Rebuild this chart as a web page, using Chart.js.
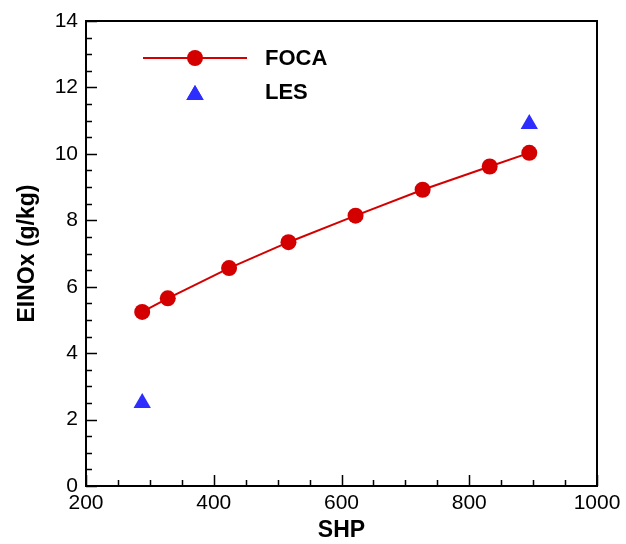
<!DOCTYPE html>
<html>
<head>
<meta charset="utf-8">
<script src="https://cdn.jsdelivr.net/npm/chart.js@4/dist/chart.umd.min.js"></script>
<style>
  html, body { margin: 0; padding: 0; background: #ffffff; }
  canvas { display: block; }
</style>
</head>
<body>
<canvas id="c" width="626" height="544"></canvas>
<script>
// Emission index of NOx versus shaft horsepower
const focaShp   = [288, 328, 424, 517, 622, 727, 832, 894];
const focaEINOx = [5.24, 5.65, 6.56, 7.34, 8.14, 8.92, 9.62, 10.03];
const lesShp    = [288, 894];
const lesEINOx  = [2.5, 10.9];

const xTicks = [200, 400, 600, 800, 1000];
const yTicks = [0, 2, 4, 6, 8, 10, 12, 14];

const RED = '#d40000';
const BLUE = '#2d2dff';
const FONT = 'Liberation Sans, Arial, Helvetica, sans-serif';

const toPoints = (xs, ys) => xs.map((x, i) => ({ x: x, y: ys[i] }));

// Frame, inward tick marks and the in-plot legend
const decorations = {
  id: 'decorations',
  afterDraw(chart) {
    const ctx = chart.ctx;
    const a = chart.chartArea;
    const xs = chart.scales.x, ys = chart.scales.y;
    ctx.save();
    ctx.strokeStyle = '#000';
    ctx.lineWidth = 1.5;
    ctx.beginPath();
    for (let v = 0; v <= 14; v += 0.5) {
      const p = Math.round(ys.getPixelForValue(v)) + 0.5;
      const len = (v % 2 === 0) ? 11 : 6;
      ctx.moveTo(a.left, p); ctx.lineTo(a.left + len, p);
    }
    for (let v = 200; v <= 1000; v += 50) {
      const p = Math.round(xs.getPixelForValue(v)) + 0.5;
      const len = (v % 200 === 0) ? 11 : 6;
      ctx.moveTo(p, a.bottom); ctx.lineTo(p, a.bottom - len);
    }
    ctx.stroke();
    ctx.lineWidth = 2;
    ctx.strokeRect(a.left, a.top, a.right - a.left, a.bottom - a.top);

    // legend
    const ds = chart.data.datasets;
    ctx.strokeStyle = ds[0].borderColor;
    ctx.lineWidth = 2;
    ctx.beginPath();
    ctx.moveTo(143, 58); ctx.lineTo(247, 58);
    ctx.stroke();
    ctx.fillStyle = ds[0].pointBackgroundColor;
    ctx.beginPath(); ctx.arc(195, 58, 8, 0, Math.PI * 2); ctx.fill();
    ctx.fillStyle = ds[1].pointBackgroundColor;
    ctx.strokeStyle = ds[1].pointBackgroundColor;
    Chart.helpers.drawPoint(ctx, { pointStyle: 'triangle', radius: 10, borderWidth: 0, rotation: 0 }, 195, 95);
    ctx.fill();
    ctx.fillStyle = '#000';
    ctx.font = 'bold 22px ' + FONT;
    ctx.textBaseline = 'middle';
    ctx.textAlign = 'left';
    ctx.fillText(ds[0].label, 265, 59);
    ctx.fillText(ds[1].label, 265, 93);
    ctx.restore();
  }
};

new Chart(document.getElementById('c'), {
  type: 'scatter',
  data: {
    datasets: [
      {
        label: 'FOCA',
        data: toPoints(focaShp, focaEINOx),
        showLine: true,
        borderColor: RED,
        borderWidth: 2,
        backgroundColor: RED,
        pointBackgroundColor: RED,
        pointBorderWidth: 0,
        pointRadius: 8,
        pointStyle: 'circle',
        tension: 0
      },
      {
        label: 'LES',
        data: toPoints(lesShp, lesEINOx),
        showLine: false,
        backgroundColor: BLUE,
        pointBackgroundColor: BLUE,
        pointBorderWidth: 0,
        pointRadius: 10,
        pointStyle: 'triangle'
      }
    ]
  },
  options: {
    responsive: false,
    animation: false,
    layout: { padding: { top: 21, right: 29, left: 0, bottom: 0 } },
    plugins: { legend: { display: false }, tooltip: { enabled: false } },
    scales: {
      x: {
        type: 'linear',
        min: 200, max: 1000,
        afterBuildTicks: s => { s.ticks = xTicks.map(v => ({ value: v })); },
        afterFit: s => { s.height = 58; },
        grid: { display: false },
        border: { display: false },
        ticks: {
          color: '#000', padding: -3, maxRotation: 0,
          font: { family: FONT, size: 21 },
          callback: v => String(v)
        },
        title: {
          display: true, text: 'SHP', color: '#000',
          padding: { top: 0, bottom: 0 },
          font: { family: FONT, size: 23, weight: 'bold' }
        }
      },
      y: {
        type: 'linear',
        min: 0, max: 14,
        afterBuildTicks: s => { s.ticks = yTicks.map(v => ({ value: v })); },
        afterFit: s => { s.width = 86; },
        grid: { display: false },
        border: { display: false },
        ticks: {
          color: '#000', padding: 0,
          font: { family: FONT, size: 21 },
          callback: v => String(v)
        },
        title: {
          display: true, text: 'EINOx (g/kg)', color: '#000',
          padding: { top: 14, bottom: 0 },
          font: { family: FONT, size: 23, weight: 'bold' }
        }
      }
    }
  },
  plugins: [decorations]
});
</script>
</body>
</html>
